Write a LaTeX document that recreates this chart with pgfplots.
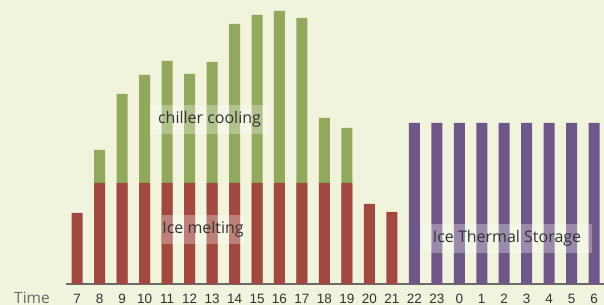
\documentclass[border=0pt]{standalone}
\usepackage{pgfplots}
\pgfplotsset{compat=1.18}
\usepackage{pgfplotstable}
\usepackage{fontspec}
\setmainfont{Liberation Sans}
\newfontfamily\labelfont{Open Sans}
\definecolor{bg}{RGB}{240,244,220}
\definecolor{mred}{RGB}{163,72,63}
\definecolor{mgreen}{RGB}{146,168,90}
\definecolor{mpurple}{RGB}{111,88,137}
\definecolor{axisgray}{RGB}{105,105,105}
\definecolor{ticktext}{RGB}{50,50,50}

\pgfplotstableread{
x red total purple
0 71 0 0
1 101 134 0
2 101 190 0
3 101 209 0
4 101 223 0
5 101 210 0
6 101 222 0
7 101 260 0
8 101 269 0
9 101 273 0
10 101 266 0
11 101 166 0
12 101 156 0
13 80 0 0
14 72 0 0
15 0 0 161
16 0 0 161
17 0 0 161
18 0 0 161
19 0 0 161
20 0 0 161
21 0 0 161
22 0 0 161
23 0 0 161
}\data

\begin{document}
\begin{tikzpicture}
\fill[bg] (0,0) rectangle (604bp,305bp);
\useasboundingbox (0,0) rectangle (604bp,305bp);
\begin{axis}[
  at={(66bp,21bp)}, anchor=south west,
  scale only axis, width=538bp, height=284bp,
  xmin=-0.5, xmax=23.44, ymin=0, ymax=284,
  axis x line*=bottom, axis y line=none,
  x axis line style={draw=axisgray, line width=2bp, -},
  xtick={0,...,23},
  xticklabels={7,8,9,10,11,12,13,14,15,16,17,18,19,20,21,22,23,0,1,2,3,4,5,6},
  major tick length=0pt,
  xticklabel style={anchor=base, yshift=-19bp, font=\fontsize{13.5bp}{15bp}\selectfont, text=ticktext},
  ybar, bar width=11bp, bar shift=0pt,
  clip=false,
]
\addplot[fill=mgreen, draw=none] table[x=x, y=total] {\data};
\addplot[fill=mred, draw=none] table[x=x, y=red] {\data};
\addplot[fill=mpurple, draw=none] table[x=x, y=purple] {\data};
\end{axis}
\node[anchor=base, text=axisgray, font=\labelfont\fontsize{15.5bp}{17bp}\selectfont] at (32bp,2bp) {Time};
\node[fill=white, fill opacity=0.3, text opacity=1, text=black!80, minimum width=119bp, minimum height=29bp, inner sep=0pt, font=\labelfont\fontsize{16bp}{18bp}\selectfont] at (209.5bp,185.5bp) {chiller cooling};
\node[fill=white, fill opacity=0.3, text opacity=1, text=black!80, minimum width=82bp, minimum height=29bp, inner sep=0pt, font=\labelfont\fontsize{16bp}{18bp}\selectfont] at (203bp,75.5bp) {Ice melting};
\node[fill=white, fill opacity=0.3, text opacity=1, text=black!80, minimum width=170bp, minimum height=29bp, inner sep=0pt, font=\labelfont\fontsize{16bp}{18bp}\selectfont] at (507bp,66.5bp) {Ice Thermal Storage};
\end{tikzpicture}
\end{document}
